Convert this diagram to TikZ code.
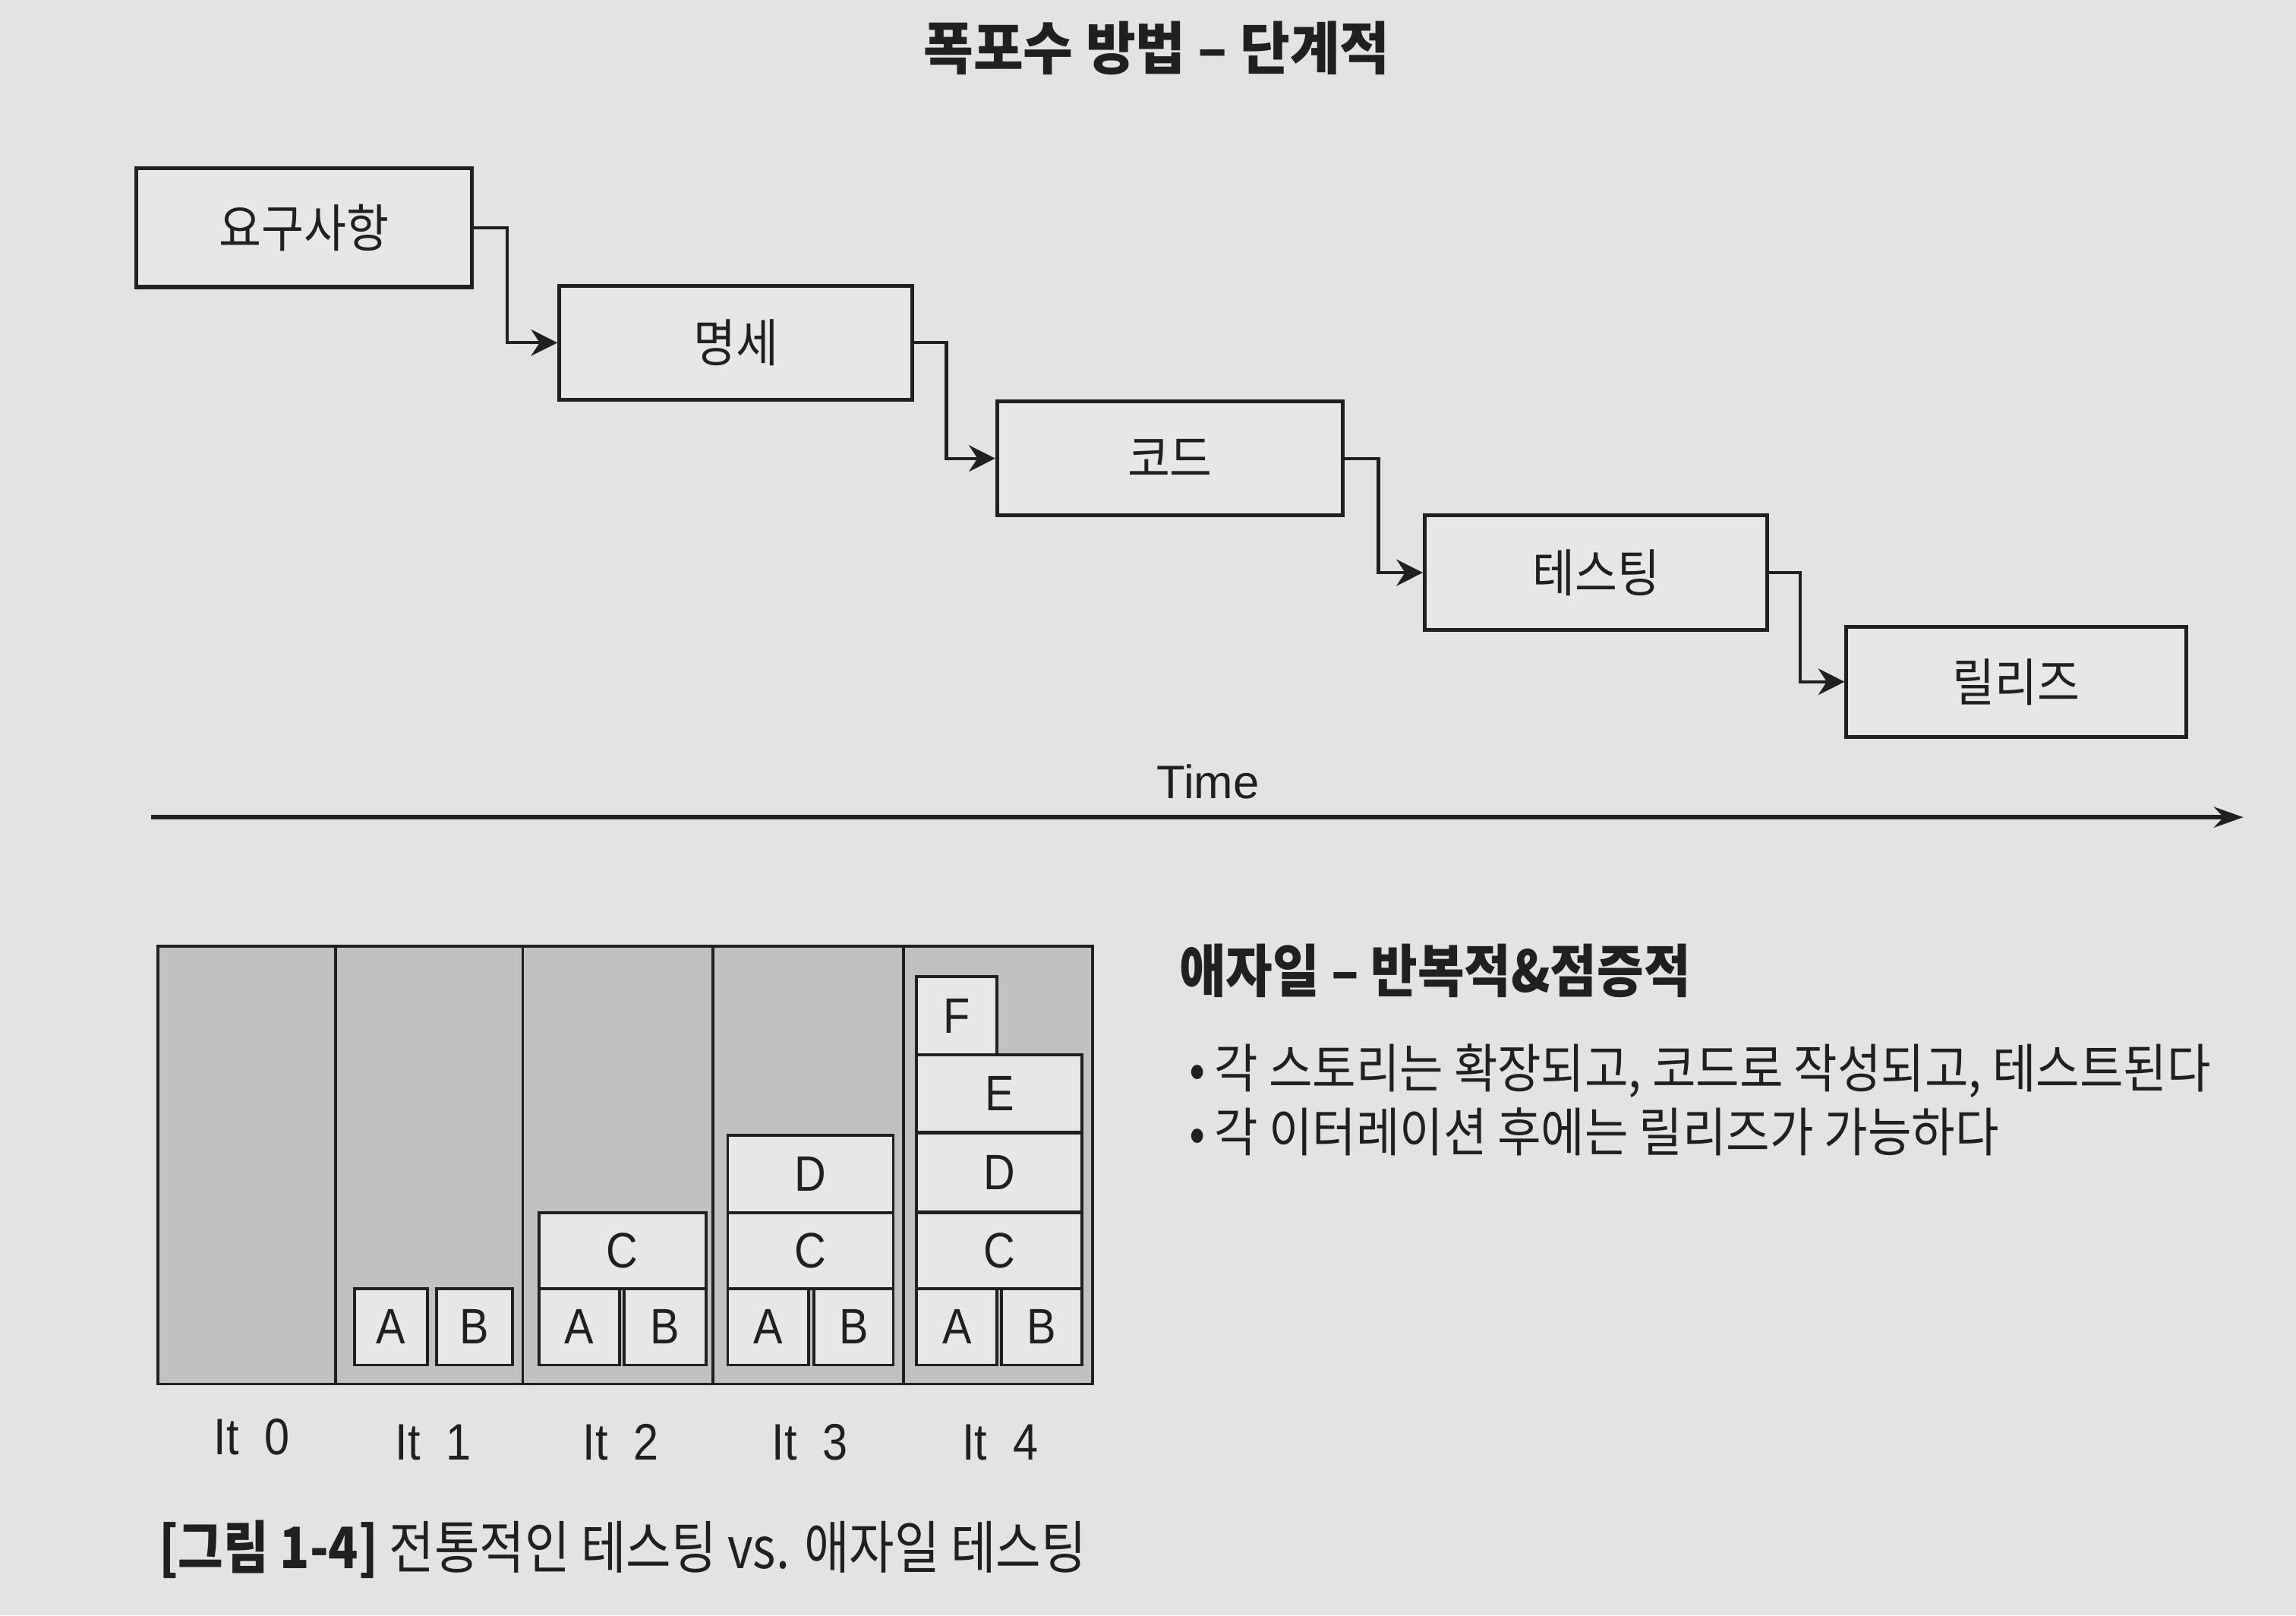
\documentclass[tikz,border=0pt]{standalone}
\usepackage{fontspec}
\setmainfont{Noto Sans CJK KR}
\newfontfamily\krA[FakeStretch=0.9]{Noto Sans CJK KR}
\newfontfamily\krT[FakeStretch=0.95]{Noto Sans CJK KR}
\newfontfamily\krH[FakeStretch=0.89]{Noto Sans CJK KR}
\newfontfamily\krC[FakeStretch=0.86]{Noto Sans CJK KR}
\newfontfamily\lat{Liberation Sans}
\newfontfamily\latc[FakeStretch=0.88]{Liberation Sans}
\usetikzlibrary{arrows.meta}
\definecolor{paper}{RGB}{229,227,225}
\definecolor{boxfill}{RGB}{232,231,229}
\definecolor{colgray}{RGB}{194,193,191}
\definecolor{ink}{RGB}{32,32,32}
\newcommand{\itlab}[1]{It\hskip0.5em #1}
\begin{document}
\begin{tikzpicture}[x=0.5pt,y=-0.5pt,
  wbox/.style={draw=ink, line width=1.3pt, fill=boxfill, inner sep=0pt, text=ink,
    font=\krA\fontsize{17.5pt}{20pt}\selectfont},
  conn/.style={draw=ink, line width=1.1pt, -{Stealth[length=9pt,width=9pt]}},
  timeaxis/.style={draw=ink, line width=1.7pt, -{Stealth[length=10pt,width=7pt]}},
  sbox/.style={draw=ink, line width=1pt, fill=boxfill, inner sep=0pt, text=ink,
    font=\latc\fontsize{17pt}{19pt}\selectfont},
  itlabel/.style={text=ink, font=\latc\fontsize{17.5pt}{20pt}\selectfont},
  heading/.style={text=ink, font=\krH\bfseries\fontsize{19.5pt}{22pt}\selectfont},
  bodytext/.style={text=ink, anchor=west, inner sep=0pt, font=\krA\fontsize{18pt}{21pt}\selectfont},
]
\fill[paper] (0,0) rectangle (1568,1103);
\useasboundingbox (0,0) rectangle (1568,1103);

% title
\node[heading, font=\krT\bfseries\fontsize{19.5pt}{22pt}\selectfont] (title) at (790,33) {폭포수 방법 – 단계적};

% waterfall boxes
\node[wbox, minimum width=114.5pt, minimum height=40.5pt] (req)  at (207.5,155.5) {요구사항};
\node[wbox, minimum width=120.5pt, minimum height=39pt]   (spec) at (502.5,234)   {명세};
\node[wbox, minimum width=118pt,   minimum height=39pt]   (code) at (799,313)     {코드};
\node[wbox, minimum width=117pt,   minimum height=39pt]   (test) at (1090,391)    {테스팅};
\node[wbox, minimum width=116pt,   minimum height=37.5pt] (rel)  at (1377,465.5)  {릴리즈};

\draw[conn] (req.east)  -- ++(23,0) |- (spec.west);
\draw[conn] (spec.east) -- ++(22,0) |- (code.west);
\draw[conn] (code.east) -- ++(23,0) |- (test.west);
\draw[conn] (test.east) -- ++(21,0) |- (rel.west);

% time axis
\coordinate (t0) at (103,558);
\coordinate (t1) at (1532,558);
\draw[timeaxis] (t0) -- (t1);
\node[text=ink, font=\lat\fontsize{16pt}{19pt}\selectfont] (time) at (825,534) {Time};

% agile chart
\fill[colgray] (108,646) rectangle (746,945);
\draw[ink, line width=1pt] (108,646) rectangle (746,945);
\foreach \xx in {229,357,487,617} \draw[ink, line width=1pt] (\xx,646) -- (\xx,945);

% It 1
\node[sbox, minimum width=25pt, minimum height=26pt] (a1) at (267,906) {A};
\node[sbox, minimum width=26pt, minimum height=26pt] (b1) at (324,906) {B};
% It 2
\node[sbox, minimum width=27.5pt, minimum height=26pt] (a2) at (395.5,906) {A};
\node[sbox, minimum width=28pt,   minimum height=26pt] (b2) at (454,906)   {B};
\node[sbox, minimum width=57pt,   minimum height=26pt] (c2) at (425,854)   {C};
% It 3
\node[sbox, minimum width=27.5pt, minimum height=26pt]   (a3) at (524.5,906) {A};
\node[sbox, minimum width=27pt,   minimum height=26pt]   (b3) at (583,906)   {B};
\node[sbox, minimum width=56.5pt, minimum height=26pt]   (c3) at (553.5,854) {C};
\node[sbox, minimum width=56.5pt, minimum height=26.5pt] (d3) at (553.5,801.5) {D};
% It 4
\node[sbox, minimum width=27.5pt, minimum height=26pt]   (a4) at (653.5,906) {A};
\node[sbox, minimum width=27.5pt, minimum height=26pt]   (b4) at (711.5,906) {B};
\node[sbox, minimum width=56.5pt, minimum height=26pt]   (c4) at (682.5,854) {C};
\node[sbox, minimum width=56.5pt, minimum height=27pt]   (d4) at (682.5,800.5) {D};
\node[sbox, minimum width=56.5pt, minimum height=26.5pt] (e4) at (682.5,746.5) {E};
\node[sbox, minimum width=27.5pt, minimum height=26.5pt] (f4) at (653.5,693.5) {F};

% iteration labels
\node[itlabel] (it0) at (172,981) {\itlab{0}};
\node[itlabel] (it1) at (296,985) {\itlab{1}};
\node[itlabel] (it2) at (424,985) {\itlab{2}};
\node[itlabel] (it3) at (553,985) {\itlab{3}};
\node[itlabel] (it4) at (683,985) {\itlab{4}};

% agile text
\node[heading, anchor=west, inner sep=0pt] (agile) at (805,663) {애자일 – 반복적\&점증적};
\node[bodytext] (bul1) at (812,731) {•\,각 스토리는 확장되고, 코드로 작성되고, 테스트된다};
\node[bodytext] (bul2) at (812,773) {•\,각 이터레이션 후에는 릴리즈가 가능하다};

% caption
\node[bodytext, font=\krC\fontsize{19.5pt}{22pt}\selectfont] (cap) at (108,1058) {\textbf{[그림 1-4]} 전통적인 테스팅 vs. 애자일 테스팅};
\end{tikzpicture}
\end{document}
